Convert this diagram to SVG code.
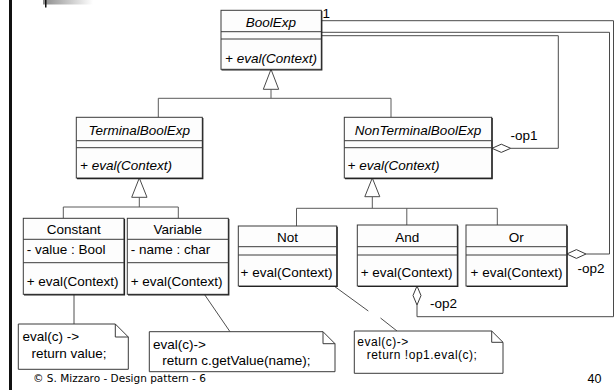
<svg xmlns="http://www.w3.org/2000/svg" width="616" height="390" viewBox="0 0 616 390">
  <defs>
    <linearGradient id="barFade" x1="0" y1="0" x2="1" y2="0">
      <stop offset="0" stop-color="#8c8c8c"/>
      <stop offset="1" stop-color="#ffffff"/>
    </linearGradient>
    <style>
      .box { fill: #fdfdfd; stroke: #3a3a3a; stroke-width: 1; }
      .shade { fill: none; stroke: #222; stroke-width: 1.2; }
      .sep { stroke: #3a3a3a; stroke-width: 1; }
      .t { font-family: "Liberation Sans", Arial, sans-serif; font-size: 13.5px; fill: #000; }
      .i { font-style: italic; }
      .c { text-anchor: middle; }
      .small { font-size: 12px; letter-spacing: 0.5px; }
      .gen { fill: none; stroke: #5a5a5a; stroke-width: 1; }
      .tri { fill: #fff; stroke: #4a4a4a; stroke-width: 1; }
      .assoc { fill: none; stroke: #4a4a4a; stroke-width: 1; }
      .dia { fill: #fff; stroke: #3a3a3a; stroke-width: 1; }
      .note { fill: #fff; stroke: #3a3a3a; stroke-width: 1; }
      .link { fill: none; stroke: #3a3a3a; stroke-width: 0.9; }
      .foot { font-family: "DejaVu Sans", Verdana, sans-serif; font-size: 10.5px; fill: #000; }
    </style>
  </defs>

  <rect width="616" height="390" fill="#fff"/>

  <!-- slide frame decorations -->
  <rect x="9" y="0" width="3" height="390" fill="#111"/>
  <rect x="43" y="0" width="50" height="4.5" fill="url(#barFade)"/>
  <rect x="45" y="0" width="1.5" height="7.5" fill="#111"/>

  <!-- connectors -->
  <g id="connectors">
    <!-- BoolExp generalization -->
    <polyline class="gen" points="271,89.3 271,98.3"/>
    <polyline class="gen" points="158.3,117.3 158.3,98.3 391,98.3 391,117.3"/>
    <polygon class="tri" points="271,69.3 263.3,89.3 278.7,89.3"/>

    <!-- TerminalBoolExp generalization -->
    <polyline class="gen" points="139.3,197.3 139.3,207"/>
    <polyline class="gen" points="63.3,218.3 63.3,207 178.3,207 178.3,218.3"/>
    <polygon class="tri" points="139.3,178 131.7,197.3 147,197.3"/>

    <!-- NonTerminalBoolExp generalization -->
    <polyline class="gen" points="372.3,196.7 372.3,208.3"/>
    <polyline class="gen" points="296.5,226 296.5,208.3 497.3,208.3 497.3,225"/>
    <polyline class="gen" points="406.8,208.3 406.8,225"/>
    <polygon class="tri" points="372.3,178 364.8,196.7 379.8,196.7"/>

    <!-- op1 aggregation: NonTerminalBoolExp to BoolExp -->
    <polyline class="assoc" points="510.7,148.3 558.3,148.3 558.3,35.7 321.3,35.7"/>
    <polygon class="dia" points="492,148.3 501.3,144.2 510.7,148.3 501.3,152.4"/>

    <!-- op2 aggregation: Or to BoolExp -->
    <polyline class="assoc" points="586,254 609.5,254 609.5,32.3 321.3,32.3"/>
    <polygon class="dia" points="566.8,254 576.4,249.6 586,254 576.4,258.4"/>

    <!-- op2 aggregation: And to BoolExp -->
    <polyline class="assoc" points="417,305 417,316.7 613.5,316.7 613.5,20.7 321.3,20.7"/>
    <polygon class="dia" points="417,286 421,295.5 417,305 413,295.5"/>

    <!-- note links -->
    <line class="link" x1="74" y1="294.5" x2="74" y2="324"/>
    <line class="link" x1="204.5" y1="294.5" x2="230" y2="331.7"/>
    <line class="link" x1="333.3" y1="285.5" x2="368.3" y2="311"/>
    <line class="link" x1="380.5" y1="318" x2="397" y2="331"/>

    <!-- association labels -->
    <text class="t" x="322.5" y="18">1</text>
    <text class="t" x="510.5" y="139.5">-op1</text>
    <text class="t" x="577.5" y="272.5">-op2</text>
    <text class="t" x="430" y="308">-op2</text>
  </g>

  <!-- abstract root -->
  <g id="BoolExp">
    <rect class="box" x="221" y="10.3" width="100.3" height="59"/>
    <path class="shade" d="M321.8,11 V70 H221.5"/>
    <line class="sep" x1="221" y1="31.7" x2="321.3" y2="31.7"/>
    <line class="sep" x1="221" y1="39" x2="321.3" y2="39"/>
    <text class="t i c" x="271" y="26.5">BoolExp</text>
    <text class="t i" x="225" y="62.5">+ eval(Context)</text>
  </g>

  <g id="TerminalBoolExp">
    <rect class="box" x="76.3" y="117.3" width="126" height="60.7"/>
    <path class="shade" d="M202.8,118 V178.6 H77"/>
    <line class="sep" x1="76.3" y1="140.7" x2="202.3" y2="140.7"/>
    <line class="sep" x1="76.3" y1="147.7" x2="202.3" y2="147.7"/>
    <text class="t i c" x="139.3" y="134.5">TerminalBoolExp</text>
    <text class="t i" x="80" y="170">+ eval(Context)</text>
  </g>

  <g id="NonTerminalBoolExp">
    <rect class="box" x="344.3" y="117.3" width="147.4" height="60.7"/>
    <path class="shade" d="M492.2,118 V178.6 H345"/>
    <line class="sep" x1="344.3" y1="140.7" x2="491.7" y2="140.7"/>
    <line class="sep" x1="344.3" y1="147.7" x2="491.7" y2="147.7"/>
    <text class="t i c" x="418" y="134.5">NonTerminalBoolExp</text>
    <text class="t i" x="347.5" y="170">+ eval(Context)</text>
  </g>

  <g id="Constant">
    <rect class="box" x="23.3" y="218.3" width="100.7" height="76"/>
    <path class="shade" d="M124.5,219 V294.8 H24"/>
    <line class="sep" x1="23.3" y1="239.3" x2="124" y2="239.3"/>
    <line class="sep" x1="23.3" y1="262.7" x2="124" y2="262.7"/>
    <text class="t c" x="73.7" y="234">Constant</text>
    <text class="t" x="26.7" y="254">- value : Bool</text>
    <text class="t" x="26.7" y="286">+ eval(Context)</text>
  </g>

  <g id="Variable">
    <rect class="box" x="127.3" y="218.3" width="101" height="76"/>
    <path class="shade" d="M228.8,219 V294.8 H128"/>
    <line class="sep" x1="127.3" y1="239.3" x2="228.3" y2="239.3"/>
    <line class="sep" x1="127.3" y1="262.7" x2="228.3" y2="262.7"/>
    <text class="t c" x="177.8" y="234">Variable</text>
    <text class="t" x="130.7" y="254">- name : char</text>
    <text class="t" x="130.7" y="286">+ eval(Context)</text>
  </g>

  <g id="Not">
    <rect class="box" x="238.3" y="226" width="98.4" height="60"/>
    <path class="shade" d="M337.2,226.7 V286.5 H239"/>
    <line class="sep" x1="238.3" y1="246.7" x2="336.7" y2="246.7"/>
    <line class="sep" x1="238.3" y1="255" x2="336.7" y2="255"/>
    <text class="t c" x="287.5" y="242">Not</text>
    <text class="t" x="240.5" y="276.5">+ eval(Context)</text>
  </g>

  <g id="And">
    <rect class="box" x="357.3" y="225" width="100" height="61"/>
    <path class="shade" d="M457.8,225.7 V286.5 H358"/>
    <line class="sep" x1="357.3" y1="246.7" x2="457.3" y2="246.7"/>
    <line class="sep" x1="357.3" y1="255" x2="457.3" y2="255"/>
    <text class="t c" x="407.3" y="242">And</text>
    <text class="t" x="360.7" y="276.5">+ eval(Context)</text>
  </g>

  <g id="Or">
    <rect class="box" x="466" y="225" width="100.7" height="61"/>
    <path class="shade" d="M567.2,225.7 V286.5 H466.7"/>
    <line class="sep" x1="466" y1="246.7" x2="566.7" y2="246.7"/>
    <line class="sep" x1="466" y1="255" x2="566.7" y2="255"/>
    <text class="t c" x="516.3" y="242">Or</text>
    <text class="t" x="470.5" y="276.5">+ eval(Context)</text>
  </g>

  <!-- notes -->
  <g id="note-constant">
    <path class="note" d="M18.3,324 H115.3 L128.3,337 V369.3 H18.3 Z M115.3,324 V337 H128.3"/>
    <text class="t" x="22.5" y="341">eval(c) -&gt;</text>
    <text class="t" x="31.5" y="358">return value;</text>
  </g>

  <g id="note-variable">
    <path class="note" d="M149.3,331.7 H323 L335,343.7 V371.7 H149.3 Z M323,331.7 V343.7 H335"/>
    <text class="t" x="153" y="348.5">eval(c)-&gt;</text>
    <text class="t" x="162.3" y="364.5">return c.getValue(name);</text>
  </g>

  <g id="note-not">
    <path class="note" d="M354.3,331 H491.7 L503,342.3 V373.3 H354.3 Z M491.7,331 V342.3 H503"/>
    <text class="t small" x="357.3" y="345.5">eval(c)-&gt;</text>
    <text class="t small" x="366.7" y="359">return !op1.eval(c);</text>
  </g>

  <!-- footer -->
  <text class="foot" x="33" y="382">© S. Mizzaro - Design pattern - 6</text>
  <text class="t" x="587.5" y="383" style="font-size:12.5px">40</text>
</svg>
